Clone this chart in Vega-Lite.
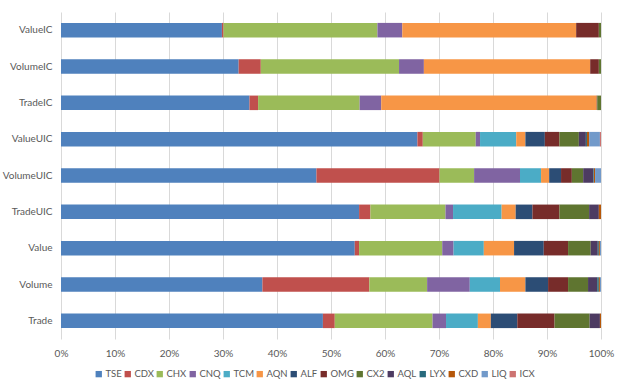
{
  "$schema": "https://vega.github.io/schema/vega-lite/v6.json",
  "width": 540,
  "height": 327,
  "autosize": {"type": "none"},
  "padding": {"left": 61, "top": 12, "right": 24, "bottom": 52},
  "background": "white",
  "config": {
    "view": {"stroke": null},
    "font": "Lato",
    "axis": {"labelFont": "Lato", "labelColor": "#595959", "labelFontSize": 10}
  },
  "datasets": {
    "series": [
      {"s": "TSE", "k": 1}, {"s": "CDX", "k": 2}, {"s": "CHX", "k": 3}, {"s": "CNQ", "k": 4}, {"s": "TCM", "k": 5}, {"s": "AQN", "k": 6}, {"s": "ALF", "k": 7},
      {"s": "OMG", "k": 8}, {"s": "CX2", "k": 9}, {"s": "AQL", "k": 10}, {"s": "LYX", "k": 11}, {"s": "CXD", "k": 12}, {"s": "LIQ", "k": 13}, {"s": "ICX", "k": 14}
    ],
    "shares": [
      {"c": "ValueIC", "s": "TSE", "v": 29.8}, {"c": "ValueIC", "s": "CDX", "v": 0.3}, {"c": "ValueIC", "s": "CHX", "v": 28.5}, {"c": "ValueIC", "s": "CNQ", "v": 4.6}, {"c": "ValueIC", "s": "AQN", "v": 32.2}, {"c": "ValueIC", "s": "OMG", "v": 4.2}, {"c": "ValueIC", "s": "CX2", "v": 0.4},
      {"c": "VolumeIC", "s": "TSE", "v": 32.9}, {"c": "VolumeIC", "s": "CDX", "v": 4.1}, {"c": "VolumeIC", "s": "CHX", "v": 25.6}, {"c": "VolumeIC", "s": "CNQ", "v": 4.6}, {"c": "VolumeIC", "s": "AQN", "v": 30.8}, {"c": "VolumeIC", "s": "OMG", "v": 1.6}, {"c": "VolumeIC", "s": "CX2", "v": 0.4},
      {"c": "TradeIC", "s": "TSE", "v": 34.9}, {"c": "TradeIC", "s": "CDX", "v": 1.6}, {"c": "TradeIC", "s": "CHX", "v": 18.8}, {"c": "TradeIC", "s": "CNQ", "v": 4.0}, {"c": "TradeIC", "s": "AQN", "v": 39.9}, {"c": "TradeIC", "s": "OMG", "v": 0.1}, {"c": "TradeIC", "s": "CX2", "v": 0.7},
      {"c": "ValueUIC", "s": "TSE", "v": 66.0}, {"c": "ValueUIC", "s": "CDX", "v": 1.0}, {"c": "ValueUIC", "s": "CHX", "v": 9.8}, {"c": "ValueUIC", "s": "CNQ", "v": 0.8}, {"c": "ValueUIC", "s": "TCM", "v": 6.7}, {"c": "ValueUIC", "s": "AQN", "v": 1.7}, {"c": "ValueUIC", "s": "ALF", "v": 3.6}, {"c": "ValueUIC", "s": "OMG", "v": 2.7}, {"c": "ValueUIC", "s": "CX2", "v": 3.6}, {"c": "ValueUIC", "s": "AQL", "v": 1.3}, {"c": "ValueUIC", "s": "LYX", "v": 0.2}, {"c": "ValueUIC", "s": "CXD", "v": 0.4}, {"c": "ValueUIC", "s": "LIQ", "v": 2.0}, {"c": "ValueUIC", "s": "ICX", "v": 0.2},
      {"c": "VolumeUIC", "s": "TSE", "v": 47.3}, {"c": "VolumeUIC", "s": "CDX", "v": 22.8}, {"c": "VolumeUIC", "s": "CHX", "v": 6.4}, {"c": "VolumeUIC", "s": "CNQ", "v": 8.5}, {"c": "VolumeUIC", "s": "TCM", "v": 3.9}, {"c": "VolumeUIC", "s": "AQN", "v": 1.5}, {"c": "VolumeUIC", "s": "ALF", "v": 2.2}, {"c": "VolumeUIC", "s": "OMG", "v": 2.0}, {"c": "VolumeUIC", "s": "CX2", "v": 2.1}, {"c": "VolumeUIC", "s": "AQL", "v": 1.9}, {"c": "VolumeUIC", "s": "LYX", "v": 0.1}, {"c": "VolumeUIC", "s": "CXD", "v": 0.2}, {"c": "VolumeUIC", "s": "LIQ", "v": 1.1},
      {"c": "TradeUIC", "s": "TSE", "v": 55.2}, {"c": "TradeUIC", "s": "CDX", "v": 2.1}, {"c": "TradeUIC", "s": "CHX", "v": 13.9}, {"c": "TradeUIC", "s": "CNQ", "v": 1.4}, {"c": "TradeUIC", "s": "TCM", "v": 9.0}, {"c": "TradeUIC", "s": "AQN", "v": 2.6}, {"c": "TradeUIC", "s": "ALF", "v": 3.1}, {"c": "TradeUIC", "s": "OMG", "v": 5.0}, {"c": "TradeUIC", "s": "CX2", "v": 5.5}, {"c": "TradeUIC", "s": "AQL", "v": 1.8}, {"c": "TradeUIC", "s": "CXD", "v": 0.4},
      {"c": "Value", "s": "TSE", "v": 54.4}, {"c": "Value", "s": "CDX", "v": 0.8}, {"c": "Value", "s": "CHX", "v": 15.4}, {"c": "Value", "s": "CNQ", "v": 2.1}, {"c": "Value", "s": "TCM", "v": 5.6}, {"c": "Value", "s": "AQN", "v": 5.6}, {"c": "Value", "s": "ALF", "v": 5.5}, {"c": "Value", "s": "OMG", "v": 4.5}, {"c": "Value", "s": "CX2", "v": 4.2}, {"c": "Value", "s": "AQL", "v": 1.3}, {"c": "Value", "s": "LYX", "v": 0.2}, {"c": "Value", "s": "CXD", "v": 0.2}, {"c": "Value", "s": "LIQ", "v": 0.2},
      {"c": "Volume", "s": "TSE", "v": 37.3}, {"c": "Volume", "s": "CDX", "v": 19.8}, {"c": "Volume", "s": "CHX", "v": 10.7}, {"c": "Volume", "s": "CNQ", "v": 7.9}, {"c": "Volume", "s": "TCM", "v": 5.6}, {"c": "Volume", "s": "AQN", "v": 4.7}, {"c": "Volume", "s": "ALF", "v": 4.2}, {"c": "Volume", "s": "OMG", "v": 3.7}, {"c": "Volume", "s": "CX2", "v": 3.7}, {"c": "Volume", "s": "AQL", "v": 1.7}, {"c": "Volume", "s": "LYX", "v": 0.3}, {"c": "Volume", "s": "CXD", "v": 0.2}, {"c": "Volume", "s": "LIQ", "v": 0.2},
      {"c": "Trade", "s": "TSE", "v": 48.5}, {"c": "Trade", "s": "CDX", "v": 2.2}, {"c": "Trade", "s": "CHX", "v": 18.1}, {"c": "Trade", "s": "CNQ", "v": 2.5}, {"c": "Trade", "s": "TCM", "v": 5.9}, {"c": "Trade", "s": "AQN", "v": 2.4}, {"c": "Trade", "s": "ALF", "v": 4.9}, {"c": "Trade", "s": "OMG", "v": 6.9}, {"c": "Trade", "s": "CX2", "v": 6.5}, {"c": "Trade", "s": "AQL", "v": 1.9}, {"c": "Trade", "s": "CXD", "v": 0.2}
    ]
  },
  "data": {"name": "shares"},
  "transform": [
    {"lookup": "s", "from": {"data": {"name": "series"}, "key": "s", "fields": ["k"]}}
  ],
  "mark": {"type": "bar"},
  "encoding": {
    "y": {
      "field": "c",
      "type": "nominal",
      "sort": ["ValueIC", "VolumeIC", "TradeIC", "ValueUIC", "VolumeUIC", "TradeUIC", "Value", "Volume", "Trade"],
      "scale": {"paddingInner": 0.6, "paddingOuter": 0.3},
      "axis": {"title": null, "ticks": false, "domain": false, "labelPadding": 9, "grid": false}
    },
    "x": {
      "field": "v",
      "type": "quantitative",
      "stack": "normalize",
      "scale": {"domain": [0, 1], "nice": false},
      "axis": {
        "title": null,
        "format": ".0%",
        "values": [0, 0.1, 0.2, 0.3, 0.4, 0.5, 0.6, 0.7, 0.8, 0.9, 1],
        "ticks": false,
        "domain": false,
        "grid": true,
        "gridColor": "#D9D9D9",
        "gridWidth": 1,
        "labelPadding": 9,
        "labelFlush": false
      }
    },
    "order": {"field": "k", "type": "quantitative", "sort": "ascending"},
    "color": {
      "field": "s",
      "type": "nominal",
      "scale": {
        "domain": ["TSE", "CDX", "CHX", "CNQ", "TCM", "AQN", "ALF", "OMG", "CX2", "AQL", "LYX", "CXD", "LIQ", "ICX"],
        "range": ["#4F81BD", "#C0504D", "#9BBB59", "#8064A2", "#4BACC6", "#F79646", "#2C4D75", "#772C2A", "#5F7530", "#4D3B62", "#276A7C", "#B65708", "#729ACA", "#CD7371"]
      },
      "legend": {
        "title": null,
        "orient": "none",
        "direction": "horizontal",
        "legendX": 33,
        "legendY": 357,
        "symbolType": "square",
        "symbolSize": 40,
        "symbolStrokeWidth": 0,
        "labelFont": "Lato",
        "labelFontSize": 9.5,
        "labelColor": "#595959",
        "labelOffset": 2,
        "columnPadding": 1
      }
    }
  }
}
